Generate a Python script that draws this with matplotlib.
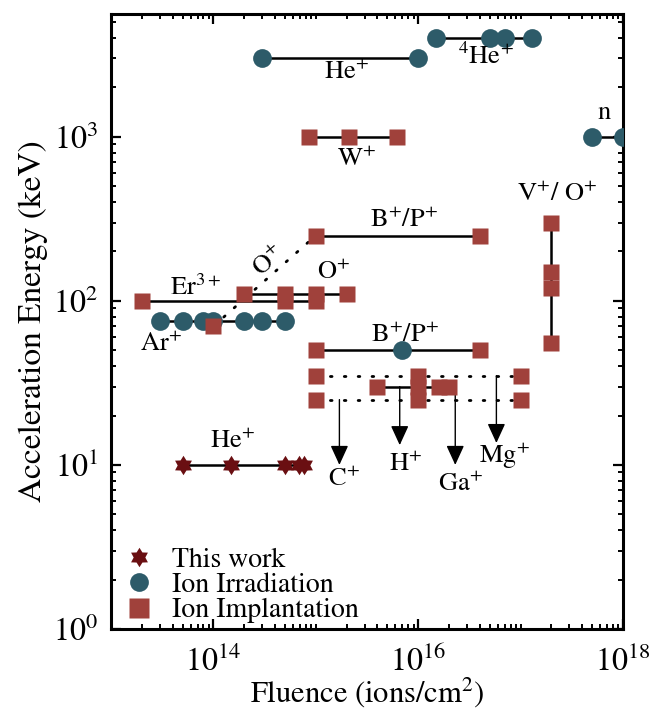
import matplotlib
matplotlib.use("Agg")
import numpy as np
import matplotlib.pyplot as plt
from matplotlib.ticker import LogLocator, NullFormatter, LogFormatterMathtext
from matplotlib.lines import Line2D

plt.rcParams['font.family'] = ['STIXGeneral', 'DejaVu Serif']
plt.rcParams['mathtext.fontset'] = 'stix'

# ---------------- data ----------------
# Ion irradiation (circles)
he_irr_x = [3e14, 1e16];                      he_irr_y = [3000, 3000]
he4_x = [1.5e16, 5e16, 7e16, 1.3e17];         he4_y = [4000, 4000, 4000, 4000]
n_x = [5e17, 1e18];                           n_y = [1000, 1000]
ar_x = [3e13, 5e13, 8e13, 1e14, 2e14, 3e14, 5e14]; ar_y = [75] * 7
bp_circ_x = [7e15];                           bp_circ_y = [50]

# Ion implantation (squares)
w_x = [8.5e14, 2.1e15, 6.2e15];               w_y = [1000, 1000, 1000]
bp_hi_x = [1e15, 4e16];                       bp_hi_y = [250, 250]
er_x = [2e13, 5e14, 1e15];                    er_y = [100, 100, 100]
o_x = [2e14, 5e14, 1e15, 2e15];               o_y = [110, 110, 110, 110]
o_dot_x = [1e14, 1e15];                       o_dot_y = [70, 250]
bp_lo_x = [1e15, 4e16];                       bp_lo_y = [50, 50]
d35_x = [1e15, 1e17];                         d35_y = [35, 35]
d25_x = [1e15, 1e17];                         d25_y = [25, 25]
mid_x = [4e15, 1e16, 1.6e16, 2e16];           mid_y = [30, 30, 30, 30]
mid_extra_x = [1e16, 1e16];                   mid_extra_y = [35, 25]
vo_x = [2e17, 2e17, 2e17, 2e17];              vo_y = [55, 120, 150, 300]

# This work (stars)
tw_x = [5e13, 1.5e14, 5e14, 6.8e14, 7.7e14]; tw_y = [10, 10, 10, 10, 10]

# arrows: (x, y_start, y_end)
arrow_x = [1.7e15, 6.6e15, 2.3e16, 5.8e16]
arrow_y0 = [25, 30, 30, 35]
arrow_y1 = [10, 13.2, 10, 13.6]

# labels
labels = [
    ('He$^{+}$', 2.0e15, 2450, 0),
    ('$^{4}$He$^{+}$', 4.6e16, 3050, 0),
    ('n', 6.6e17, 1400, 0),
    ('W$^{+}$', 2.5e15, 720, 0),
    ('V$^{+}$/ O$^{+}$', 2.3e17, 440, 0),
    ('B$^{+}$/P$^{+}$', 7.2e15, 305, 0),
    ('O$^{+}$', 1.5e15, 148, 0),
    ('O$^{+}$', 3.5e14, 172, 40),
    ('Er$^{3+}$', 6.7e13, 119, 0),
    ('Ar$^{+}$', 3.1e13, 54, 0),
    ('B$^{+}$/P$^{+}$', 7.5e15, 61, 0),
    ('He$^{+}$', 1.55e14, 13.8, 0),
    ('C$^{+}$', 1.9e15, 8.1, 0),
    ('H$^{+}$', 7.5e15, 10, 0),
    ('Ga$^{+}$', 2.6e16, 7.6, 0),
    ('Mg$^{+}$', 7.0e16, 11.4, 0),
]

c_circ = '#2D5B69'
c_sq = '#A0413B'
c_star = '#6A0F12'

# hexagram marker
ang = np.pi / 2 + np.arange(12) * np.pi / 6
rad = np.where(np.arange(12) % 2 == 0, 1.0, 0.6)
star_marker = list(zip(rad * np.cos(ang), rad * np.sin(ang)))

fig = plt.figure(figsize=(6.63, 7.18), dpi=100)
ax = fig.add_axes([0.1674, 0.124, 0.7723, 0.8565])
ax.set_xscale('log')
ax.set_yscale('log')

LW = 1.8
def line(x, y, ls='-'):
    if ls == ':':
        ax.plot(x, y, color='black', lw=2.0, ls=(0, (0.6, 4.4)), zorder=1,
                dash_capstyle='round')
    else:
        ax.plot(x, y, color='black', lw=LW, ls='-', zorder=1)

# connecting lines
line(he_irr_x, he_irr_y)
line(he4_x, he4_y)
line(n_x, n_y)
line(ar_x, ar_y)
line(w_x, w_y)
line(bp_hi_x, bp_hi_y)
line(er_x, er_y)
line(o_x, o_y)
line(o_dot_x, o_dot_y, ':')
line(bp_lo_x, bp_lo_y)
line(d35_x, d35_y, ':')
line(d25_x, d25_y, ':')
line(mid_x, mid_y)
line(vo_x, vo_y)
line(tw_x, tw_y)

# arrows
for x, y0, y1 in zip(arrow_x, arrow_y0, arrow_y1):
    ax.annotate('', xy=(x, y1), xytext=(x, y0),
                arrowprops=dict(arrowstyle='-|>,head_length=1.2,head_width=0.55',
                                lw=1.0, color='black', shrinkA=0, shrinkB=0),
                zorder=2)

# markers
msc = 13.5
mss = 12.0
mst = 14.0
for x, y in [(he_irr_x, he_irr_y), (he4_x, he4_y), (n_x, n_y), (ar_x, ar_y),
             (bp_circ_x, bp_circ_y)]:
    ax.plot(x, y, ls='none', marker='o', ms=msc, color=c_circ, mec='none', zorder=3)
for x, y in [(w_x, w_y), (bp_hi_x, bp_hi_y), (er_x, er_y), (o_x, o_y),
             (o_dot_x[:1], o_dot_y[:1]), (bp_lo_x, bp_lo_y), (d35_x, d35_y),
             (d25_x, d25_y), (mid_x, mid_y), (mid_extra_x, mid_extra_y), (vo_x, vo_y)]:
    ax.plot(x, y, ls='none', marker='s', ms=mss, color=c_sq, mec='none', zorder=4)
ax.plot(tw_x, tw_y, ls='none', marker=star_marker, ms=mst, color=c_star, mec='none', zorder=5)

for txt, x, y, rot in labels:
    ax.text(x, y, txt, fontsize=19, ha='center', va='center', rotation=rot, zorder=6)

ax.set_xlim(1e13, 1e18)
ax.set_ylim(1, 5600)

ax.xaxis.set_major_locator(LogLocator(base=100, numticks=10))
ax.xaxis.set_minor_locator(LogLocator(base=10, subs=[1, 2, 3, 4, 5, 6, 7, 8, 9], numticks=50))
ax.xaxis.set_minor_formatter(NullFormatter())
ax.xaxis.set_major_formatter(LogFormatterMathtext())
ax.yaxis.set_major_locator(LogLocator(base=10, numticks=10))
ax.yaxis.set_minor_locator(LogLocator(base=10, subs=[2, 3, 4, 5, 6, 7, 8, 9], numticks=50))
ax.yaxis.set_minor_formatter(NullFormatter())

ax.tick_params(which='both', direction='in', top=True, right=True, labelsize=23)
ax.tick_params(which='major', length=7, width=1.6)
ax.tick_params(which='minor', length=3.5, width=1.4)
ax.tick_params(axis='x', which='major', pad=12)
ax.tick_params(axis='y', which='major', pad=9)
for s in ax.spines.values():
    s.set_linewidth(2.2)

ax.set_xlabel('Fluence (ions/cm$^{2}$)', fontsize=22, labelpad=-2)
ax.set_ylabel('Acceleration Energy (keV)', fontsize=24, labelpad=4)

handles = [
    Line2D([], [], ls='none', marker=star_marker, ms=mst, color=c_star, mec='none'),
    Line2D([], [], ls='none', marker='o', ms=msc, color=c_circ, mec='none'),
    Line2D([], [], ls='none', marker='s', ms=mss * 1.25, color=c_sq, mec='none'),
]
ax.legend(handles, ['This work', 'Ion Irradiation', 'Ion Implantation'],
          loc='lower left', frameon=False, fontsize=20, handlelength=1.0,
          handletextpad=0.7, labelspacing=0.0, borderaxespad=0.0, borderpad=0.2,
          bbox_to_anchor=(0.017, 0.0))

fig.savefig('out.png', dpi=100)
